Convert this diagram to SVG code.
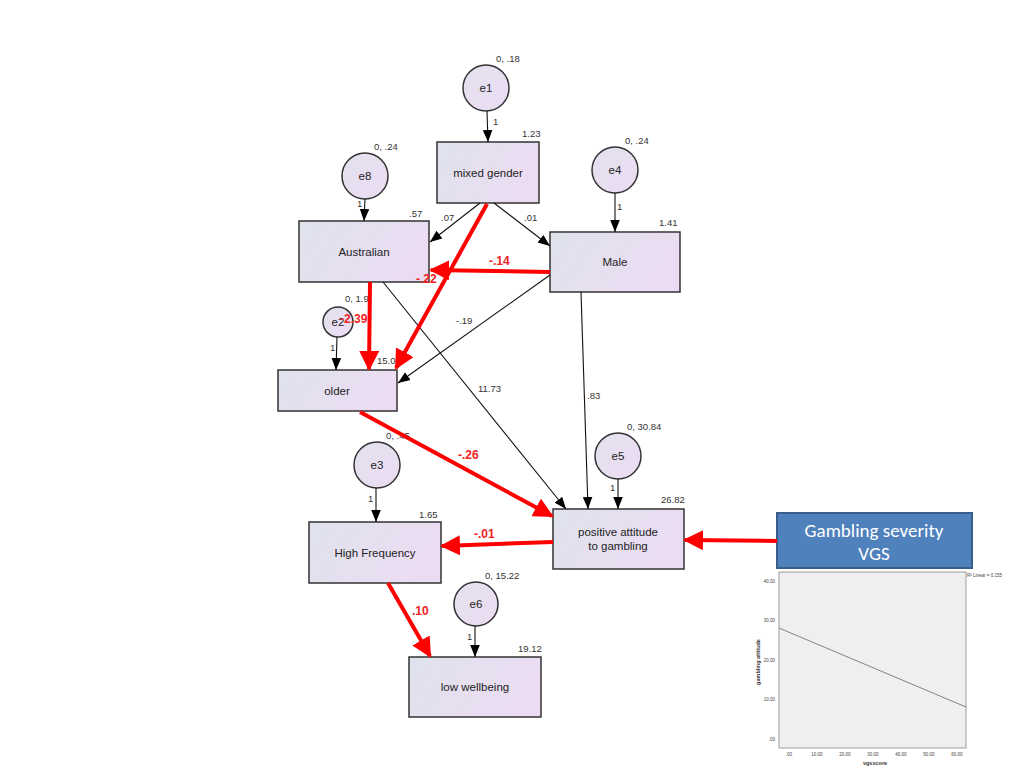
<svg xmlns="http://www.w3.org/2000/svg" width="1024" height="768" viewBox="0 0 1024 768">
<defs>
<linearGradient id="bg" x1="0" y1="0" x2="1" y2="0.3">
<stop offset="0" stop-color="#dfe3ec"/>
<stop offset="1" stop-color="#ecdcf3"/>
</linearGradient>
<linearGradient id="cg" x1="0" y1="0" x2="1" y2="1">
<stop offset="0" stop-color="#e3e1ee"/>
<stop offset="1" stop-color="#ecdcf3"/>
</linearGradient>
<marker id="ab" viewBox="0 0 10 10" refX="10" refY="5" markerWidth="12" markerHeight="12" markerUnits="userSpaceOnUse" orient="auto"><path d="M0,1 L10,5 L0,9 Z" fill="#000"/></marker>
<marker id="ar" viewBox="0 0 10 10" refX="9" refY="5" markerWidth="5" markerHeight="5" orient="auto"><path d="M0,0 L10,5 L0,10 Z" fill="#ff0000"/></marker>
</defs>
<style>
text{font-family:"Liberation Sans",Arial,sans-serif;fill:#222}
.box{fill:url(#bg);stroke:#333;stroke-width:1.5}
.circ{fill:url(#cg);stroke:#333;stroke-width:1.5}
.nm{font-size:11.5px;text-anchor:middle}
.v{font-size:9.5px;fill:#333}
.bl{stroke:#111;stroke-width:1.1;fill:none;marker-end:url(#ab)}
.rd{stroke:#ff0000;stroke-width:4;fill:none;marker-end:url(#ar)}
.rv{font-size:12px;font-weight:bold;fill:#ee2222}
.ax{font-size:4.5px;fill:#444}
.gs{font-size:19px;text-anchor:middle;fill:#fff;font-family:Carlito,"Liberation Sans",sans-serif}
</style>
<rect width="1024" height="768" fill="#fff"/>

<g id="e1"><circle class="circ" cx="486" cy="88" r="23"/><text class="nm" x="486" y="92">e1</text><text class="v" x="496" y="62">0, .18</text></g>
<g id="mixed-gender"><rect class="box" x="437" y="142" width="102" height="61"/><text class="nm" x="488" y="177">mixed gender</text><text class="v" x="522" y="137">1.23</text></g>
<g id="e8"><circle class="circ" cx="365" cy="176" r="23"/><text class="nm" x="365" y="180">e8</text><text class="v" x="374" y="150">0, .24</text></g>
<g id="Australian"><rect class="box" x="299" y="221" width="130" height="61"/><text class="nm" x="364" y="256">Australian</text><text class="v" x="409" y="217">.57</text></g>
<g id="e4"><circle class="circ" cx="615" cy="170" r="23"/><text class="nm" x="615" y="174">e4</text><text class="v" x="625" y="144">0, .24</text></g>
<g id="Male"><rect class="box" x="550" y="232" width="130" height="60"/><text class="nm" x="615" y="266">Male</text><text class="v" x="659" y="226">1.41</text></g>
<g id="e2"><circle class="circ" cx="338" cy="322" r="15"/><text class="nm" x="338" y="326">e2</text><text class="v" x="345" y="302">0, 1.9</text></g>
<g id="older"><rect class="box" x="278" y="370" width="119" height="41"/><text class="nm" x="337" y="395">older</text><text class="v" x="377" y="364">15.0</text></g>
<g id="e5"><circle class="circ" cx="618" cy="456" r="23"/><text class="nm" x="618" y="460">e5</text><text class="v" x="627" y="430">0, 30.84</text></g>
<g id="positive-attitude"><rect class="box" x="553" y="509" width="131" height="60"/><text class="nm" x="618" y="536">positive attitude</text><text class="nm" x="618" y="550">to gambling</text><text class="v" x="661" y="503">26.82</text></g>
<g id="e3"><circle class="circ" cx="377" cy="465" r="23"/><text class="nm" x="377" y="469">e3</text><text class="v" x="386" y="439">0, .45</text></g>
<g id="High-Frequency"><rect class="box" x="309" y="522" width="132" height="61"/><text class="nm" x="375" y="557">High Frequency</text><text class="v" x="419" y="518">1.65</text></g>
<g id="e6"><circle class="circ" cx="476" cy="604" r="22"/><text class="nm" x="476" y="608">e6</text><text class="v" x="485" y="579">0, 15.22</text></g>
<g id="low-wellbeing"><rect class="box" x="409" y="657" width="132" height="60"/><text class="nm" x="475" y="691">low wellbeing</text><text class="v" x="518" y="652">19.12</text></g>

<g id="Gambling-severity"><rect x="777" y="513" width="195" height="55" fill="#4f81bd" stroke="#385d8a" stroke-width="2"/><text class="gs" x="874" y="537">Gambling severity</text><text class="gs" x="874" y="560">VGS</text></g>

<g id="chart">
<rect x="779" y="572" width="187" height="176" fill="#efefef" stroke="#888" stroke-width="0.8"/>
<line x1="779" y1="628" x2="966" y2="707" stroke="#666" stroke-width="0.8"/>
<g text-anchor="end">
<text class="ax" x="775" y="583">40.00</text><text class="ax" x="775" y="622">30.00</text><text class="ax" x="775" y="662">20.00</text><text class="ax" x="775" y="701">10.00</text><text class="ax" x="775" y="741">.00</text>
</g>
<g text-anchor="middle">
<text class="ax" x="789" y="756">.00</text><text class="ax" x="817" y="756">10.00</text><text class="ax" x="845" y="756">20.00</text><text class="ax" x="873" y="756">30.00</text><text class="ax" x="901" y="756">40.00</text><text class="ax" x="929" y="756">50.00</text><text class="ax" x="957" y="756">60.00</text>
</g>
<text x="875" y="765" font-size="5.5" font-weight="bold" text-anchor="middle" style="fill:#333">vgsscore</text>
<text x="0" y="0" font-size="5.5" font-weight="bold" text-anchor="middle" transform="translate(760,662) rotate(-90)" style="fill:#333">gambling attitude</text>
<text class="ax" x="967" y="577">R² Linear = 0.155</text>
</g>

<g id="connectors">
<line class="bl" x1="487" y1="111" x2="488" y2="142"/>
<line class="bl" x1="365" y1="199" x2="364" y2="221"/>
<line class="bl" x1="615" y1="193" x2="615" y2="232"/>
<line class="bl" x1="337" y1="337" x2="336" y2="370"/>
<line class="bl" x1="618" y1="479" x2="618" y2="509"/>
<line class="bl" x1="376" y1="488" x2="376" y2="522"/>
<line class="bl" x1="475" y1="626" x2="475" y2="657"/>
<line class="bl" x1="480" y1="203" x2="430" y2="242"/>
<line class="bl" x1="494" y1="203" x2="550" y2="246"/>
<line class="bl" x1="550" y1="275" x2="398" y2="383"/>
<line class="bl" x1="383" y1="282" x2="566" y2="509"/>
<line class="bl" x1="581" y1="292" x2="588" y2="509"/>
<line class="rd" x1="550" y1="272" x2="431" y2="270"/>
<line class="rd" x1="487" y1="204" x2="396" y2="368"/>
<line class="rd" x1="370" y1="282" x2="369" y2="369"/>
<line class="rd" x1="360" y1="412" x2="552" y2="516"/>
<line class="rd" x1="553" y1="542" x2="442" y2="546"/>
<line class="rd" x1="388" y1="583" x2="430" y2="656"/>
<line class="rd" x1="777" y1="541" x2="685" y2="540"/>
<text class="v" x="493" y="125">1</text>
<text class="v" x="357" y="207">1</text>
<text class="v" x="617" y="210">1</text>
<text class="v" x="330" y="351">1</text>
<text class="v" x="610" y="491">1</text>
<text class="v" x="368" y="502">1</text>
<text class="v" x="467" y="640">1</text>
<text class="v" x="441" y="221">.07</text>
<text class="v" x="524" y="221">.01</text>
<text class="v" x="456" y="324">-.19</text>
<text class="v" x="478" y="392">11.73</text>
<text class="v" x="587" y="399">.83</text>
<text class="rv" x="489" y="265">-.14</text>
<text class="rv" x="416" y="283">-.22</text>
<text class="rv" x="340" y="323">-2.39</text>
<text class="rv" x="458" y="459">-.26</text>
<text class="rv" x="474" y="538">-.01</text>
<text class="rv" x="412" y="615">.10</text>
</g>
</svg>
